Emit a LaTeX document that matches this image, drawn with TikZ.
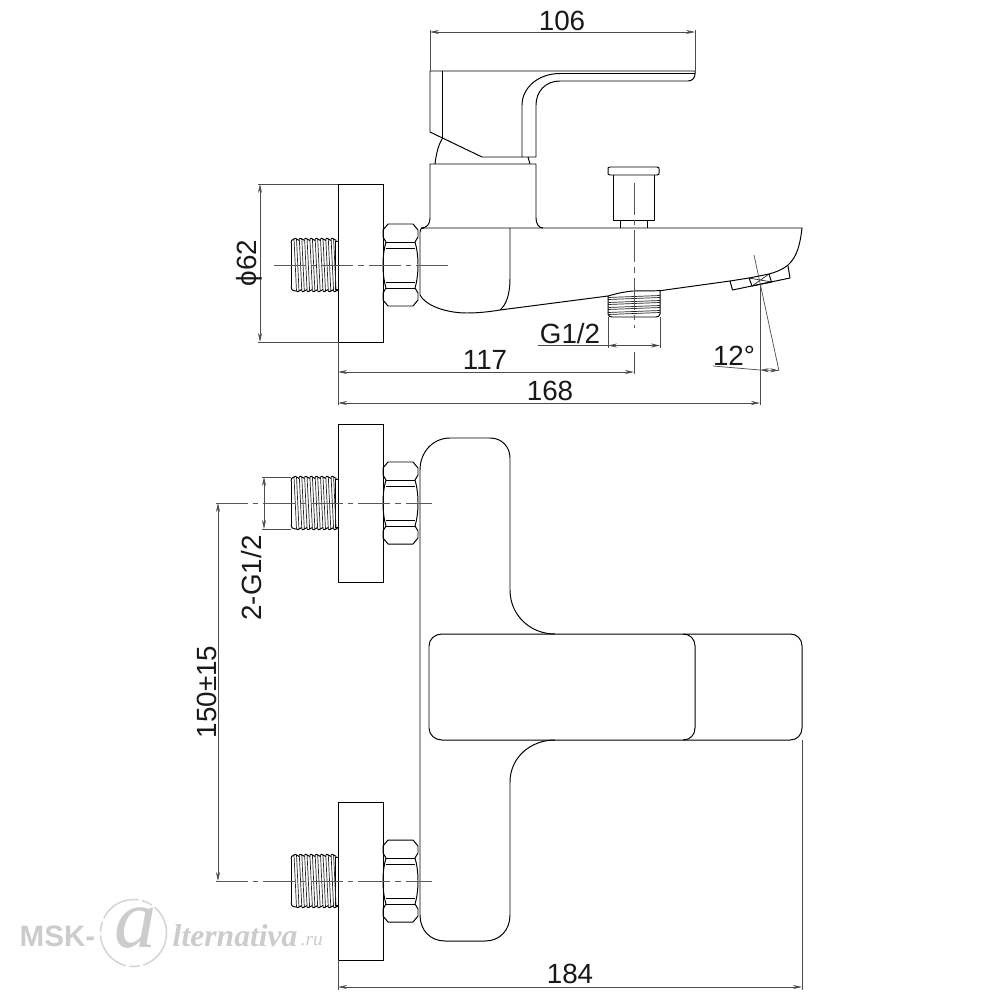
\documentclass[tikz,border=0pt]{standalone}
\usepackage{fontspec}
\setmainfont{Liberation Sans}
\newfontfamily\markfont{Liberation Serif}
\usetikzlibrary{arrows.meta}
\tikzset{
 part/.style={draw=black, line width=.28pt, line join=round},
 thin part/.style={draw=black!85, line width=.2pt},
 axis/.style={draw=black!65, line width=.2pt, dash pattern=on 9pt off 1.5pt on 1.5pt off 1.5pt},
 dim/.style={draw=black!70, line width=.2pt},
 dimboth/.style={dim, {Stealth[length=.9mm,width=.4mm]}-{Stealth[length=.9mm,width=.4mm]}},
 lbl/.style={font=\fontsize{7.9}{9}\selectfont, text=black!90, inner sep=0pt},
 mark text/.style={inner sep=0pt, text=black!20},
}
% wall plate, nut and threaded stub: axis height #1, plate top #2
\newcommand{\fitting}[2]{
    \draw[part] (338, #2) rectangle (383, #2+158);
    \draw[part] (335, #1-24) -- (338, #1-24) (335, #1+24) -- (338, #1+24) (335, #1-24) -- (335, #1+24);
    \draw[part] (291, #1-22) -- (291, #1+22);
    \draw[part] (291, #1-22) .. controls (291, #1-24) and (292, #1-26) .. (294, #1-26);
    \draw[part] (291, #1+22) .. controls (291, #1+24) and (292, #1+26) .. (296.5, #1+26);
    \foreach \x in {0, 1, ..., 7} {
        \draw[thin part] (294+5.3*\x, #1-26) -- (296.5+5.3*\x, #1+26);
        \draw[thin part] (296.5+5.3*\x, #1-26) -- (299+5.3*\x, #1+26);
        \draw[part] (294+5.3*\x, #1-26) .. controls (295+5.3*\x, #1-27) and (295.5+5.3*\x, #1-27) .. (296.5+5.3*\x, #1-26)
            -- (299.3+5.3*\x, #1-24.5);
        \draw[part] (296.5+5.3*\x, #1+26) .. controls (297.5+5.3*\x, #1+27) and (298+5.3*\x, #1+27) .. (299+5.3*\x, #1+26)
            -- (301.8+5.3*\x, #1+24.5);
    }
    \draw[part] (388, #1-41) -- (413, #1-41) -- (418, #1-35) -- (418, #1-28)
        -- (415, #1-23) .. controls (419, #1-10) and (419, #1+10) .. (415, #1+23)
        -- (418, #1+28) -- (418, #1+35) -- (413, #1+41) -- (388, #1+41)
        -- (383, #1+35) -- (383, #1+28) -- (386, #1+23)
        .. controls (382, #1+10) and (382, #1-10) .. (386, #1-23)
        -- (383, #1-28) -- (383, #1-35) -- cycle;
    \draw[part] (386, #1-23) -- (415, #1-23) (386, #1-17) -- (415, #1-17)
        (386, #1+17) -- (415, #1+17) (386, #1+23) -- (415, #1+23);
}
\begin{document}
\begin{tikzpicture}[x=.01cm, y=-.01cm]
    \useasboundingbox (0, 0) rectangle (1000, 1000);
    \fill[white] (0, 0) rectangle (1000, 1000);

    % handle
    \draw[part] (430, 71) -- (695, 71) -- (695, 74) .. controls (695, 78) and (692, 81) .. (688, 81)
        -- (560, 81) .. controls (545, 81) and (536, 92) .. (536, 105) -- (536, 157) -- (482, 157)
        -- (430, 132) -- cycle;
    \draw[part] (695, 73.5) -- (560, 73.5) .. controls (538, 73.5) and (522, 88) .. (522, 105) -- (522, 157);
    \draw[part] (442, 71) -- (442, 139);
    \draw[part] (442, 139) .. controls (438, 146) and (436, 155) .. (435, 164);
    \draw[part] (528, 157) -- (530, 164);
    % base under the handle
    \draw[part] (421, 228) .. controls (427, 228) and (430, 224) .. (430, 218) -- (430, 164) -- (536, 164)
        -- (536, 218) .. controls (536, 224) and (539, 228) .. (543, 228);
    % spout
    \draw[part] (420, 232) .. controls (420, 229) and (421, 228) .. (424, 228) -- (802, 228)
        .. controls (800, 245) and (797, 257) .. (788, 265) .. controls (782, 270) and (776, 272) .. (769, 274);
    \draw[part] (730, 281) -- (660, 290.7) -- (633, 291) .. controls (622, 292) and (615, 294) .. (608, 296)
        -- (500, 310) .. controls (488, 312) and (477, 313) .. (467, 313)
        .. controls (445, 313) and (425, 305) .. (420, 295) -- (420, 232);
    \draw[part] (510, 228) -- (510, 278) .. controls (510, 295) and (506, 305) .. (500, 310);
    % aerator
    \draw[part] (749, 278) -- (730, 281) -- (732.5, 290) -- (790, 278) -- (788, 266);
    \draw[part] (749, 278) -- (769, 274) -- (771.5, 282) -- (752, 286) -- cycle;
    \draw[thin part] (749, 278) -- (771.5, 282) (769, 274) -- (752, 286);
    % knob
    \draw[part] (610, 167) -- (657, 167) .. controls (659, 167) and (659, 168) .. (659, 169) -- (659, 173)
        .. controls (659, 174) and (659, 175) .. (657, 175) -- (610, 175)
        .. controls (608, 175) and (608, 174) .. (608, 173) -- (608, 169)
        .. controls (608, 168) and (608, 167) .. (610, 167);
    \draw[part] (613, 175) -- (613, 220) -- (654, 220) -- (654, 175);
    \draw[part] (620.5, 220) -- (620.5, 228) (647, 220) -- (647, 228);
    % outlet thread
    \draw[part] (608, 296) -- (608, 314) .. controls (608, 316) and (610, 317) .. (612, 317) -- (656, 317)
        .. controls (658, 317) and (660, 316) .. (660, 314) -- (660, 290.7);
    \foreach \y in {0, 1, 2, 3} {
        \draw[thin part] (608, 297.5+5*\y) -- (660, 295.5+5*\y);
        \draw[thin part] (608, 299.5+5*\y) -- (660, 297.5+5*\y);
    }

    \fitting{265}{184}
    \fitting{503}{424}
    \fitting{881}{802}

    % lower view, body
    \draw[part] (420, 915) -- (420, 470) .. controls (420, 452) and (433, 438) .. (450, 438) -- (490, 438)
        .. controls (502, 438) and (510, 447) .. (510, 458) -- (510, 590)
        .. controls (510, 615) and (530, 634) .. (555, 634);
    \draw[part] (555, 740) .. controls (530, 740) and (510, 758) .. (510, 782) -- (510, 915)
        .. controls (510, 930) and (500, 941) .. (485, 941) -- (445, 941)
        .. controls (430, 941) and (420, 930) .. (420, 915);
    % lower view, handle
    \draw[part] (442, 634) -- (683, 634) .. controls (690, 634) and (695, 639) .. (695, 646) -- (695, 728)
        .. controls (695, 735) and (690, 740) .. (683, 740) -- (442, 740)
        .. controls (435, 740) and (429, 735) .. (429, 728) -- (429, 646)
        .. controls (429, 639) and (435, 634) .. (442, 634);
    \draw[part] (683, 634) -- (790, 634) .. controls (797, 634) and (802, 639) .. (802, 646) -- (802, 728)
        .. controls (802, 735) and (797, 740) .. (790, 740) -- (683, 740);

    % axes
    \draw[axis] (274, 265) -- (449, 265);
    \draw[axis] (634, 183) -- (634, 328);
    \draw[axis] (216, 503) -- (432, 503);
    \draw[axis] (216, 881) -- (432, 881);

    % dimensions
    \draw[dim] (430, 30) -- (430, 71) (695, 30) -- (695, 71);
    \draw[dimboth] (430, 32) -- (695, 32);
    \node[lbl] (size106) at (562, 21) {106};

    \draw[dim] (258, 184) -- (338, 184) (258, 342) -- (338, 342);
    \draw[dimboth] (260, 184) -- (260, 342);
    \node[lbl, rotate=90] (size62) at (249, 263) {ϕ62};

    \draw[dim] (608, 317) -- (608, 348) (660, 317) -- (660, 348);
    \draw[dim] (538, 345.5) -- (608, 345.5);
    \draw[dimboth] (608, 345.5) -- (660, 345.5);
    \node[lbl] (sizeG) at (570, 334) {G1/2};

    \draw[dim] (338, 342) -- (338, 405) (634, 352) -- (634, 374) (760, 285) -- (760, 405);
    \draw[dim] (754, 255) -- (779, 371);
    \draw[dimboth] (338, 372) -- (634, 372);
    \node[lbl] (size117) at (485, 360) {117};
    \draw[dimboth] (338, 403) -- (760, 403);
    \node[lbl] (size168) at (550, 391) {168};

    \draw[dim] (713, 366) -- (760, 370);
    \draw[dimboth] (760, 370) -- (779, 370.5);
    \node[lbl] (angle12) at (734, 356) {12°};

    \draw[dim] (262, 477) -- (291, 477) (262, 529) -- (291, 529);
    \draw[dimboth] (264, 477) -- (264, 529);
    \node[lbl, rotate=90] (size2G) at (252, 578) {2-G1/2};

    \draw[dimboth] (218, 503) -- (218, 881);
    \node[lbl, rotate=90] (size150) at (207, 692) {150±15};

    \draw[dim] (338, 960) -- (338, 990) (802, 740) -- (802, 990);
    \draw[dimboth] (338, 987) -- (802, 987);
    \node[lbl] (size184) at (570, 974) {184};

    % site mark
    \node[mark text, anchor=west, font=\bfseries\fontsize{8.4}{9}\selectfont] (markA) at (19, 936) {MSK-};
    \draw[black!16, line width=.45pt, dash pattern=on 12pt off 1pt on 3pt off 1pt] (133.5, 933) ellipse (33 and 33.5);
    \node[mark text, font=\markfont\itshape\fontsize{24}{25}\selectfont] (markB) at (136, 928) {a};
    \node[mark text, anchor=west, font=\markfont\bfseries\itshape\fontsize{9}{10}\selectfont] (markC) at (172, 936) {lternativa};
    \node[mark text, anchor=west, font=\markfont\itshape\fontsize{5.5}{6}\selectfont] (markD) at (300, 941) {.ru};
\end{tikzpicture}
\end{document}
